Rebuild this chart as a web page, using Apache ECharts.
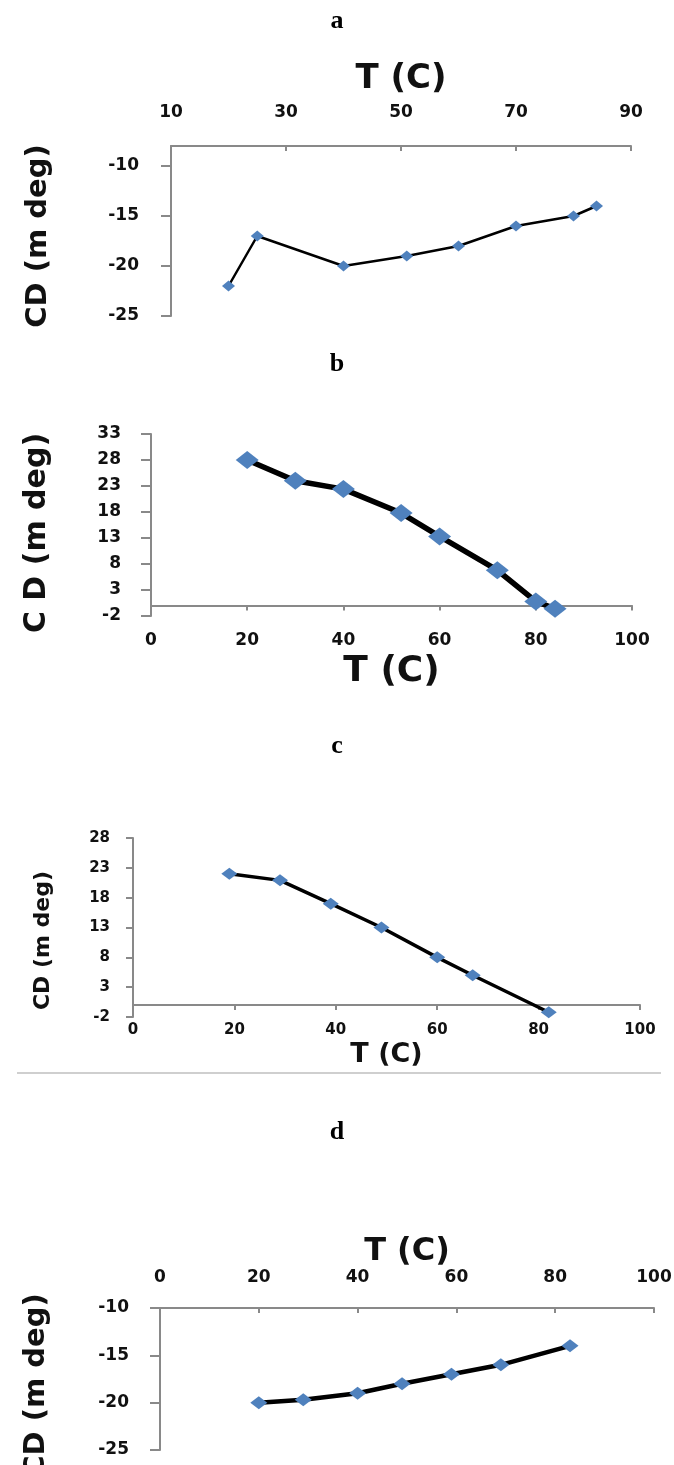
<!DOCTYPE html>
<html>
<head>
<meta charset="utf-8">
<script src="https://cdn.jsdelivr.net/npm/echarts@6/dist/echarts.min.js"></script>
<style>
html,body{margin:0;padding:0;background:#fff;}
#chart{width:674px;height:1465px;}
</style>
</head>
<body>
<div id="chart"></div>
<script>
// Panel labels
var panelLabels = ['a', 'b', 'c', 'd'];

// Panel a
var aT  = [20, 25, 40, 51, 60, 70, 80, 84];
var aCD = [-22, -17, -20, -19, -18, -16, -15, -14];
var aXTicks = [10, 30, 50, 70, 90];
var aYTicks = [-25, -20, -15, -10];

// Panel b
var bT  = [20, 30, 40, 52, 60, 72, 80, 84];
var bCD = [28, 24, 22.4, 17.8, 13.3, 6.8, 0.8, -0.6];
var bXTicks = [0, 20, 40, 60, 80, 100];
var bYTicks = [-2, 3, 8, 13, 18, 23, 28, 33];

// Panel c
var cT  = [19, 29, 39, 49, 60, 67, 82];
var cCD = [22, 20.9, 17, 13, 8, 5, -1.2];
var cXTicks = [0, 20, 40, 60, 80, 100];
var cYTicks = [-2, 3, 8, 13, 18, 23, 28];

// Panel d
var dT  = [20, 29, 40, 49, 59, 69, 83];
var dCD = [-20, -19.7, -19, -18, -17, -16, -14];
var dXTicks = [0, 20, 40, 60, 80, 100];
var dYTicks = [-25, -20, -15, -10];

var xName = 'T (C)';
var yNameA = 'CD (m deg)';
var yNameB = 'C D (m deg)';

function pairs(xs, ys) { return xs.map(function (x, i) { return [x, ys[i]]; }); }

var FONT = 'DejaVu Sans';
var AXIS_COLOR = '#898989';
var MARK_COLOR = '#4f81bd';

function xAxisCfg(gridIndex, ticks, pos, o) {
  return {
    type: 'value', gridIndex: gridIndex, position: pos,
    min: ticks[0], max: ticks[ticks.length - 1],
    axisLine: { show: true, onZero: pos === 'bottom', lineStyle: { color: AXIS_COLOR, width: 2 } },
    axisTick: { show: true, inside: pos === 'top', length: 5, customValues: ticks, lineStyle: { color: AXIS_COLOR, width: 2 } },
    axisLabel: { customValues: ticks, margin: o.margin, fontSize: o.fs, fontWeight: 'bold', fontFamily: FONT, color: '#111' },
    splitLine: { show: false },
    name: xName, nameLocation: 'middle', nameGap: o.nameGap, nameMoveOverlap: false,
    nameTextStyle: { fontSize: o.nameFs, fontWeight: 'bold', fontFamily: FONT, color: '#111', verticalAlign: 'middle' }
  };
}
function yAxisCfg(gridIndex, ticks, min, max, name, o) {
  return {
    type: 'value', gridIndex: gridIndex, min: min, max: max,
    axisLine: { show: true, onZero: true, lineStyle: { color: AXIS_COLOR, width: 2 } },
    axisTick: { show: true, length: o.tick, customValues: ticks, lineStyle: { color: AXIS_COLOR, width: 2 } },
    axisLabel: { customValues: ticks, margin: o.margin, fontSize: o.fs, fontWeight: 'bold', fontFamily: FONT, color: '#111' },
    splitLine: { show: false },
    name: name, nameLocation: 'middle', nameGap: o.nameGap, nameMoveOverlap: false,
    nameTextStyle: { fontSize: o.nameFs, fontWeight: 'bold', fontFamily: FONT, color: '#111',
      verticalAlign: 'middle', padding: [0, o.shift, 0, 0] }
  };
}
function lineSeries(idx, xs, ys, lw, sym) {
  return {
    type: 'line', xAxisIndex: idx, yAxisIndex: idx,
    data: pairs(xs, ys),
    symbol: 'diamond', symbolSize: sym, showSymbol: true,
    itemStyle: { color: MARK_COLOR, borderWidth: 0 },
    lineStyle: { color: '#000', width: lw },
    clip: false, z: 3
  };
}

var titleTops = [8, 351, 733, 1119];
var chart = echarts.init(document.getElementById('chart'), null, { renderer: 'canvas' });
chart.setOption({
  animation: false,
  backgroundColor: '#fff',
  title: panelLabels.map(function (t, i) {
    return { text: t, left: 'center', top: titleTops[i], padding: 0,
      textStyle: { fontFamily: 'Liberation Serif', fontWeight: 'bold', fontSize: 26, color: '#000' } };
  }),
  grid: [
    { left: 171, top: 146, width: 460, height: 170, outerBoundsMode: 'none', containLabel: false },
    { left: 151, top: 434, width: 481, height: 182, outerBoundsMode: 'none', containLabel: false },
    { left: 133, top: 838, width: 507, height: 179, outerBoundsMode: 'none', containLabel: false },
    { left: 160, top: 1308, width: 494, height: 142, outerBoundsMode: 'none', containLabel: false }
  ],
  xAxis: [
    xAxisCfg(0, aXTicks, 'top',    { margin: 25, fs: 17, nameGap: 67, nameFs: 34 }),
    xAxisCfg(1, bXTicks, 'bottom', { margin: 16, fs: 17, nameGap: 56, nameFs: 36 }),
    xAxisCfg(2, cXTicks, 'bottom', { margin: 6, fs: 15, nameGap: 38, nameFs: 27 }),
    xAxisCfg(3, dXTicks, 'top',    { margin: 22, fs: 17, nameGap: 56, nameFs: 32 })
  ],
  yAxis: [
    yAxisCfg(0, aYTicks, -25, -8, yNameA, { tick: 10, margin: 32, fs: 17, nameGap: 133, nameFs: 29, shift: 10 }),
    yAxisCfg(1, bYTicks, -2, 33, yNameB, { tick: 10, margin: 30, fs: 17, nameGap: 114, nameFs: 30, shift: 16 }),
    yAxisCfg(2, cYTicks, -2, 28, yNameA, { tick: 7, margin: 23, fs: 15, nameGap: 90, nameFs: 22, shift: 26 }),
    yAxisCfg(3, dYTicks, -25, -10, yNameA, { tick: 10, margin: 31, fs: 17, nameGap: 124, nameFs: 29, shift: 12 })
  ],
  series: [
    lineSeries(0, aT, aCD, 2.5, [13, 11]),
    lineSeries(1, bT, bCD, 5.5, [23, 18]),
    lineSeries(2, cT, cCD, 3.5, [16, 12]),
    lineSeries(3, dT, dCD, 4.5, [17, 13])
  ],
  graphic: [
    { type: 'line', shape: { x1: 17, y1: 1073, x2: 661, y2: 1073 },
      style: { stroke: '#cfcfcf', lineWidth: 2 }, silent: true }
  ]
});
</script>
</body>
</html>
